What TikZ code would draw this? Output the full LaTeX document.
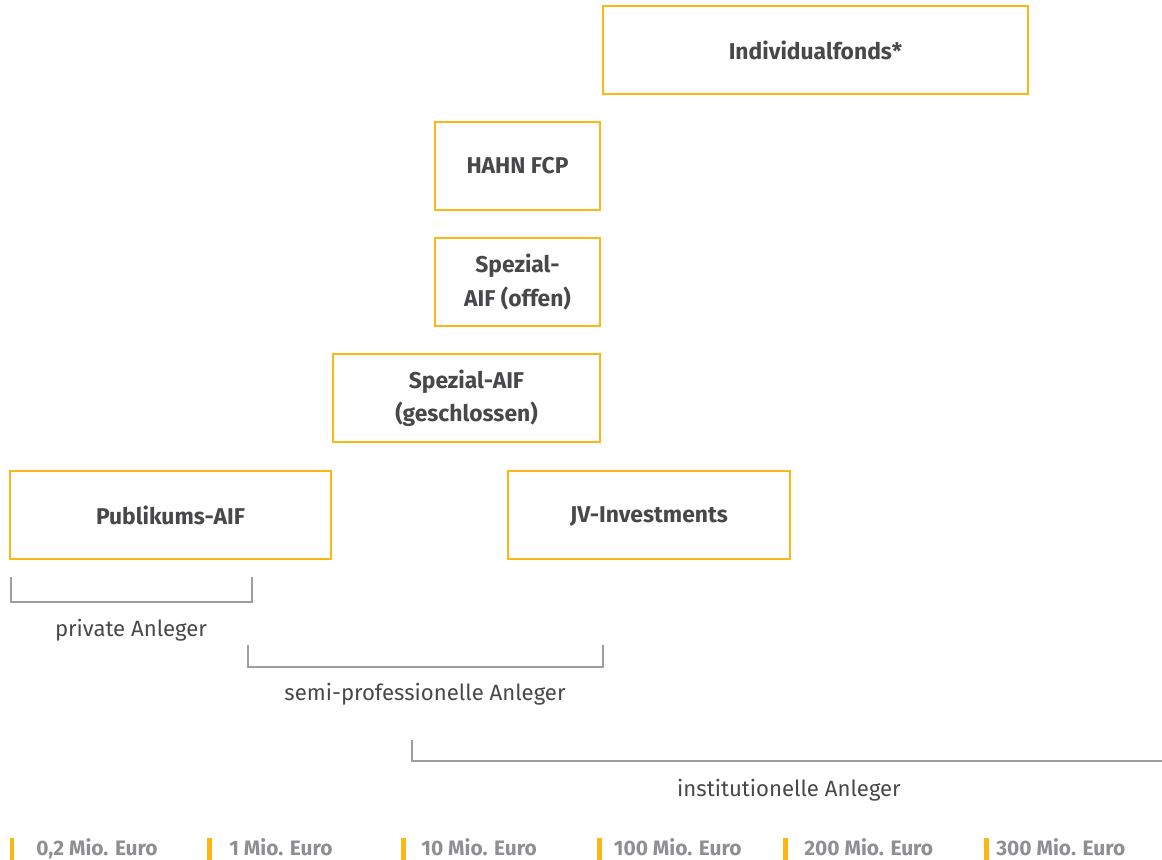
\documentclass[tikz,border=0pt]{standalone}
\usepackage{fontspec}
\setmainfont{Fira Sans}
\usetikzlibrary{positioning}
\definecolor{hahnorange}{RGB}{253,183,20}
\definecolor{hahngray}{RGB}{158,158,160}
\definecolor{hahntext}{RGB}{72,72,74}
\definecolor{hahnlabel}{RGB}{142,142,147}

\begin{document}
\begin{tikzpicture}[x=0.02cm, y=-0.02cm,
    fund/.style={draw=hahnorange, line width=1.5pt, align=center, text=hahntext,
        font=\fontsize{13}{19}\selectfont\bfseries, minimum height=1.76cm, inner sep=0pt},
    group/.style={text=hahntext, font=\fontsize{12.6}{14}\selectfont, anchor=base, inner sep=0pt},
    bracket/.style={draw=hahngray, line width=1.4pt},
    marker/.style={fill=hahnorange, minimum width=0.1cm, minimum height=0.5cm, inner sep=0pt},
    amount/.style={text=hahnlabel, font=\fontsize{11.9}{13}\selectfont\bfseries, anchor=base west, inner sep=0pt}]
    \useasboundingbox (0,0) rectangle (1162,859);
    %% funds
    \draw (815.5,50) node[fund, minimum width=8.5cm](indiv){Individualfonds*} ;
    \draw (517.5,166) node[fund, minimum width=3.3cm](hahn){HAHN FCP} ;
    \draw (517.5,282) node[fund, minimum width=3.3cm](spezoff){Spezial-\\AIF (offen)} ;
    \draw (466.5,398) node[fund, minimum width=5.34cm](spezgesch){Spezial-AIF\\(geschlossen)} ;
    \draw (170.5,515) node[fund, minimum width=6.42cm](publ){Publikums-AIF} ;
    \draw (649,515) node[fund, minimum width=5.64cm, text depth=0pt](jv){JV-Investments} ;
    %% investor groups
    %% -- private
    \draw[bracket] (11,577) -- (11,602) -- (252,602) -- (252,577) ;
    \draw (131,636) node[group](priv){private Anleger} ;
    %% -- semi-professional
    \draw[bracket] (248,645) -- (248,667) -- (603,667) -- (603,645) ;
    \draw (425,700) node[group](semi){semi-professionelle Anleger} ;
    %% -- institutional
    \draw[bracket] (412,740) -- (412,761) -- (1170,761) ;
    \draw (789,796) node[group](inst){institutionelle Anleger} ;
    %% volumes
    \draw (12,850) node[marker](m0){} ;
    \draw (209.5,850) node[marker](m1){} ;
    \draw (403.5,850) node[marker](m2){} ;
    \draw (599,850) node[marker](m3){} ;
    \draw (785,850) node[marker](m4){} ;
    \draw (986.5,850) node[marker](m5){} ;
    \draw (36,855) node[amount](v0){0,2 Mio. Euro} ;
    \draw (229,855) node[amount](v1){1 Mio. Euro} ;
    \draw (421,855) node[amount](v2){10 Mio. Euro} ;
    \draw (613.5,855) node[amount](v3){100 Mio. Euro} ;
    \draw (804,855) node[amount](v4){200 Mio. Euro} ;
    \draw (996,855) node[amount](v5){300 Mio. Euro} ;
\end{tikzpicture}
\end{document}
